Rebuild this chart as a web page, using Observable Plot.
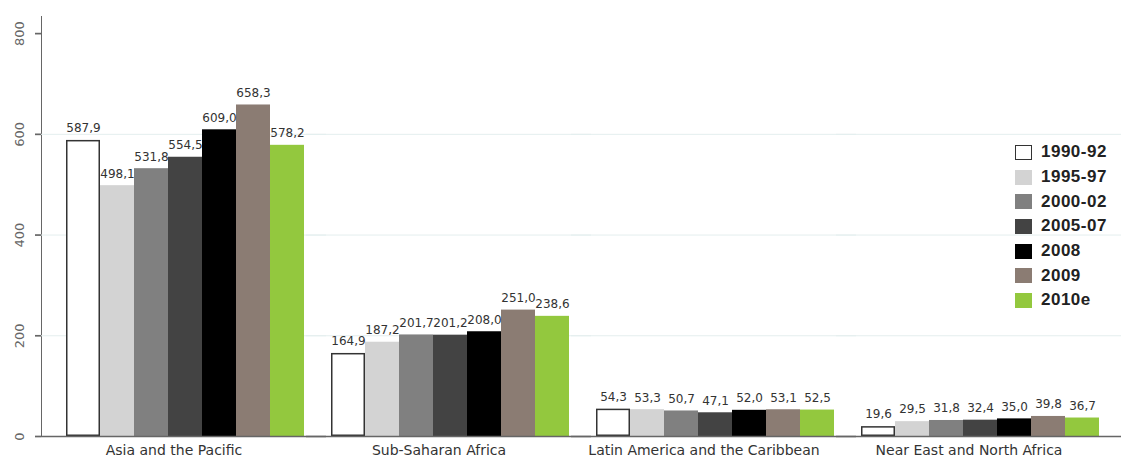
<!DOCTYPE html>
<html>
<head>
<meta charset="utf-8">
<script src="https://cdn.jsdelivr.net/npm/d3@7"></script>
<script src="https://cdn.jsdelivr.net/npm/@observablehq/plot@0.6"></script>
<style>
  html, body { margin: 0; padding: 0; background: #fff; }
  #wrap { position: relative; width: 1121px; height: 460px; }
  #legend { position: absolute; left: 1015px; top: 140px; font-family: "Liberation Sans", Arial, sans-serif; font-weight: bold; font-size: 17px; color: #222; letter-spacing: 0.5px; }
  .row { display: flex; align-items: center; height: 24.7px; }
  .sw { width: 17px; height: 15px; margin-right: 9px; box-sizing: border-box; }
  svg g[aria-label*="y-axis"] line, svg g[aria-label*="y-axis"] path { stroke-width: 1.7px !important; }
</style>
</head>
<body>
<div id="wrap"><div id="chart"></div><div id="legend"></div></div>
<script>
const regions = ["Asia and the Pacific", "Sub-Saharan Africa", "Latin America and the Caribbean", "Near East and North Africa"];
const series = ["1990-92", "1995-97", "2000-02", "2005-07", "2008", "2009", "2010e"];
const asiaPacific = [587.9, 498.1, 531.8, 554.5, 609.0, 658.3, 578.2];
const subSaharanAfrica = [164.9, 187.2, 201.7, 201.2, 208.0, 251.0, 238.6];
const latinAmerica = [54.3, 53.3, 50.7, 47.1, 52.0, 53.1, 52.5];
const nearEastNorthAfrica = [19.6, 29.5, 31.8, 32.4, 35.0, 39.8, 36.7];
const seriesColors = ["#ffffff", "#d3d3d3", "#808080", "#434343", "#000000", "#8b7c73", "#93c83e"];
const yTicks = [0, 200, 400, 600, 800];
const gridTicks = [200, 400, 600];

const valuesByRegion = [asiaPacific, subSaharanAfrica, latinAmerica, nearEastNorthAfrica];
const data = regions.flatMap((region, i) =>
  series.map((s, j) => ({region, series: s, value: valuesByRegion[i][j]}))
);
const fmt = v => v.toFixed(1).replace(".", ",");

const chart = Plot.plot({
  width: 1121,
  height: 460,
  marginLeft: 41,
  marginRight: 20,
  marginTop: 16,
  marginBottom: 24,
  style: {fontFamily: "DejaVu Sans, sans-serif", fontSize: "13px", color: "#666", background: "transparent"},
  fx: {domain: regions, padding: 0, label: null},
  x: {domain: series, padding: 0, axis: null, insetLeft: 23, insetRight: 0},
  y: {domain: [0, 834], ticks: yTicks, tickRotate: -90, tickSize: 6, tickPadding: 12, label: null, line: true},
  color: {domain: series, range: seriesColors},
  marks: [
    Plot.ruleY(gridTicks, {stroke: "#e4eeee", insetRight: -20}),
    Plot.barY(data, {fx: "region", x: "series", y: "value", fill: "series"}),
    Plot.barY(data.filter(d => d.series === series[0]), {fx: "region", x: "series", y: "value", fill: "#fff", stroke: "#333", strokeWidth: 1.5, inset: 0.75}),
    Plot.ruleY([0], {stroke: "#666", strokeWidth: 1.6, insetRight: -20}),
    Plot.text(data, {fx: "region", x: "series", y: "value", text: d => fmt(d.value), dy: -12, fontSize: 12, fill: "#333"}),
    Plot.axisFx({anchor: "bottom", tickSize: 0, tickPadding: 9, fontSize: 14, color: "#333", label: null})
  ]
});
document.getElementById("chart").appendChild(chart);

const legend = document.getElementById("legend");
series.forEach((s, i) => {
  const row = document.createElement("div");
  row.className = "row";
  const sw = document.createElement("div");
  sw.className = "sw";
  sw.style.background = seriesColors[i];
  if (i === 0) sw.style.border = "1.5px solid #333";
  const t = document.createElement("span");
  t.textContent = s;
  row.appendChild(sw);
  row.appendChild(t);
  legend.appendChild(row);
});
</script>
</body>
</html>
